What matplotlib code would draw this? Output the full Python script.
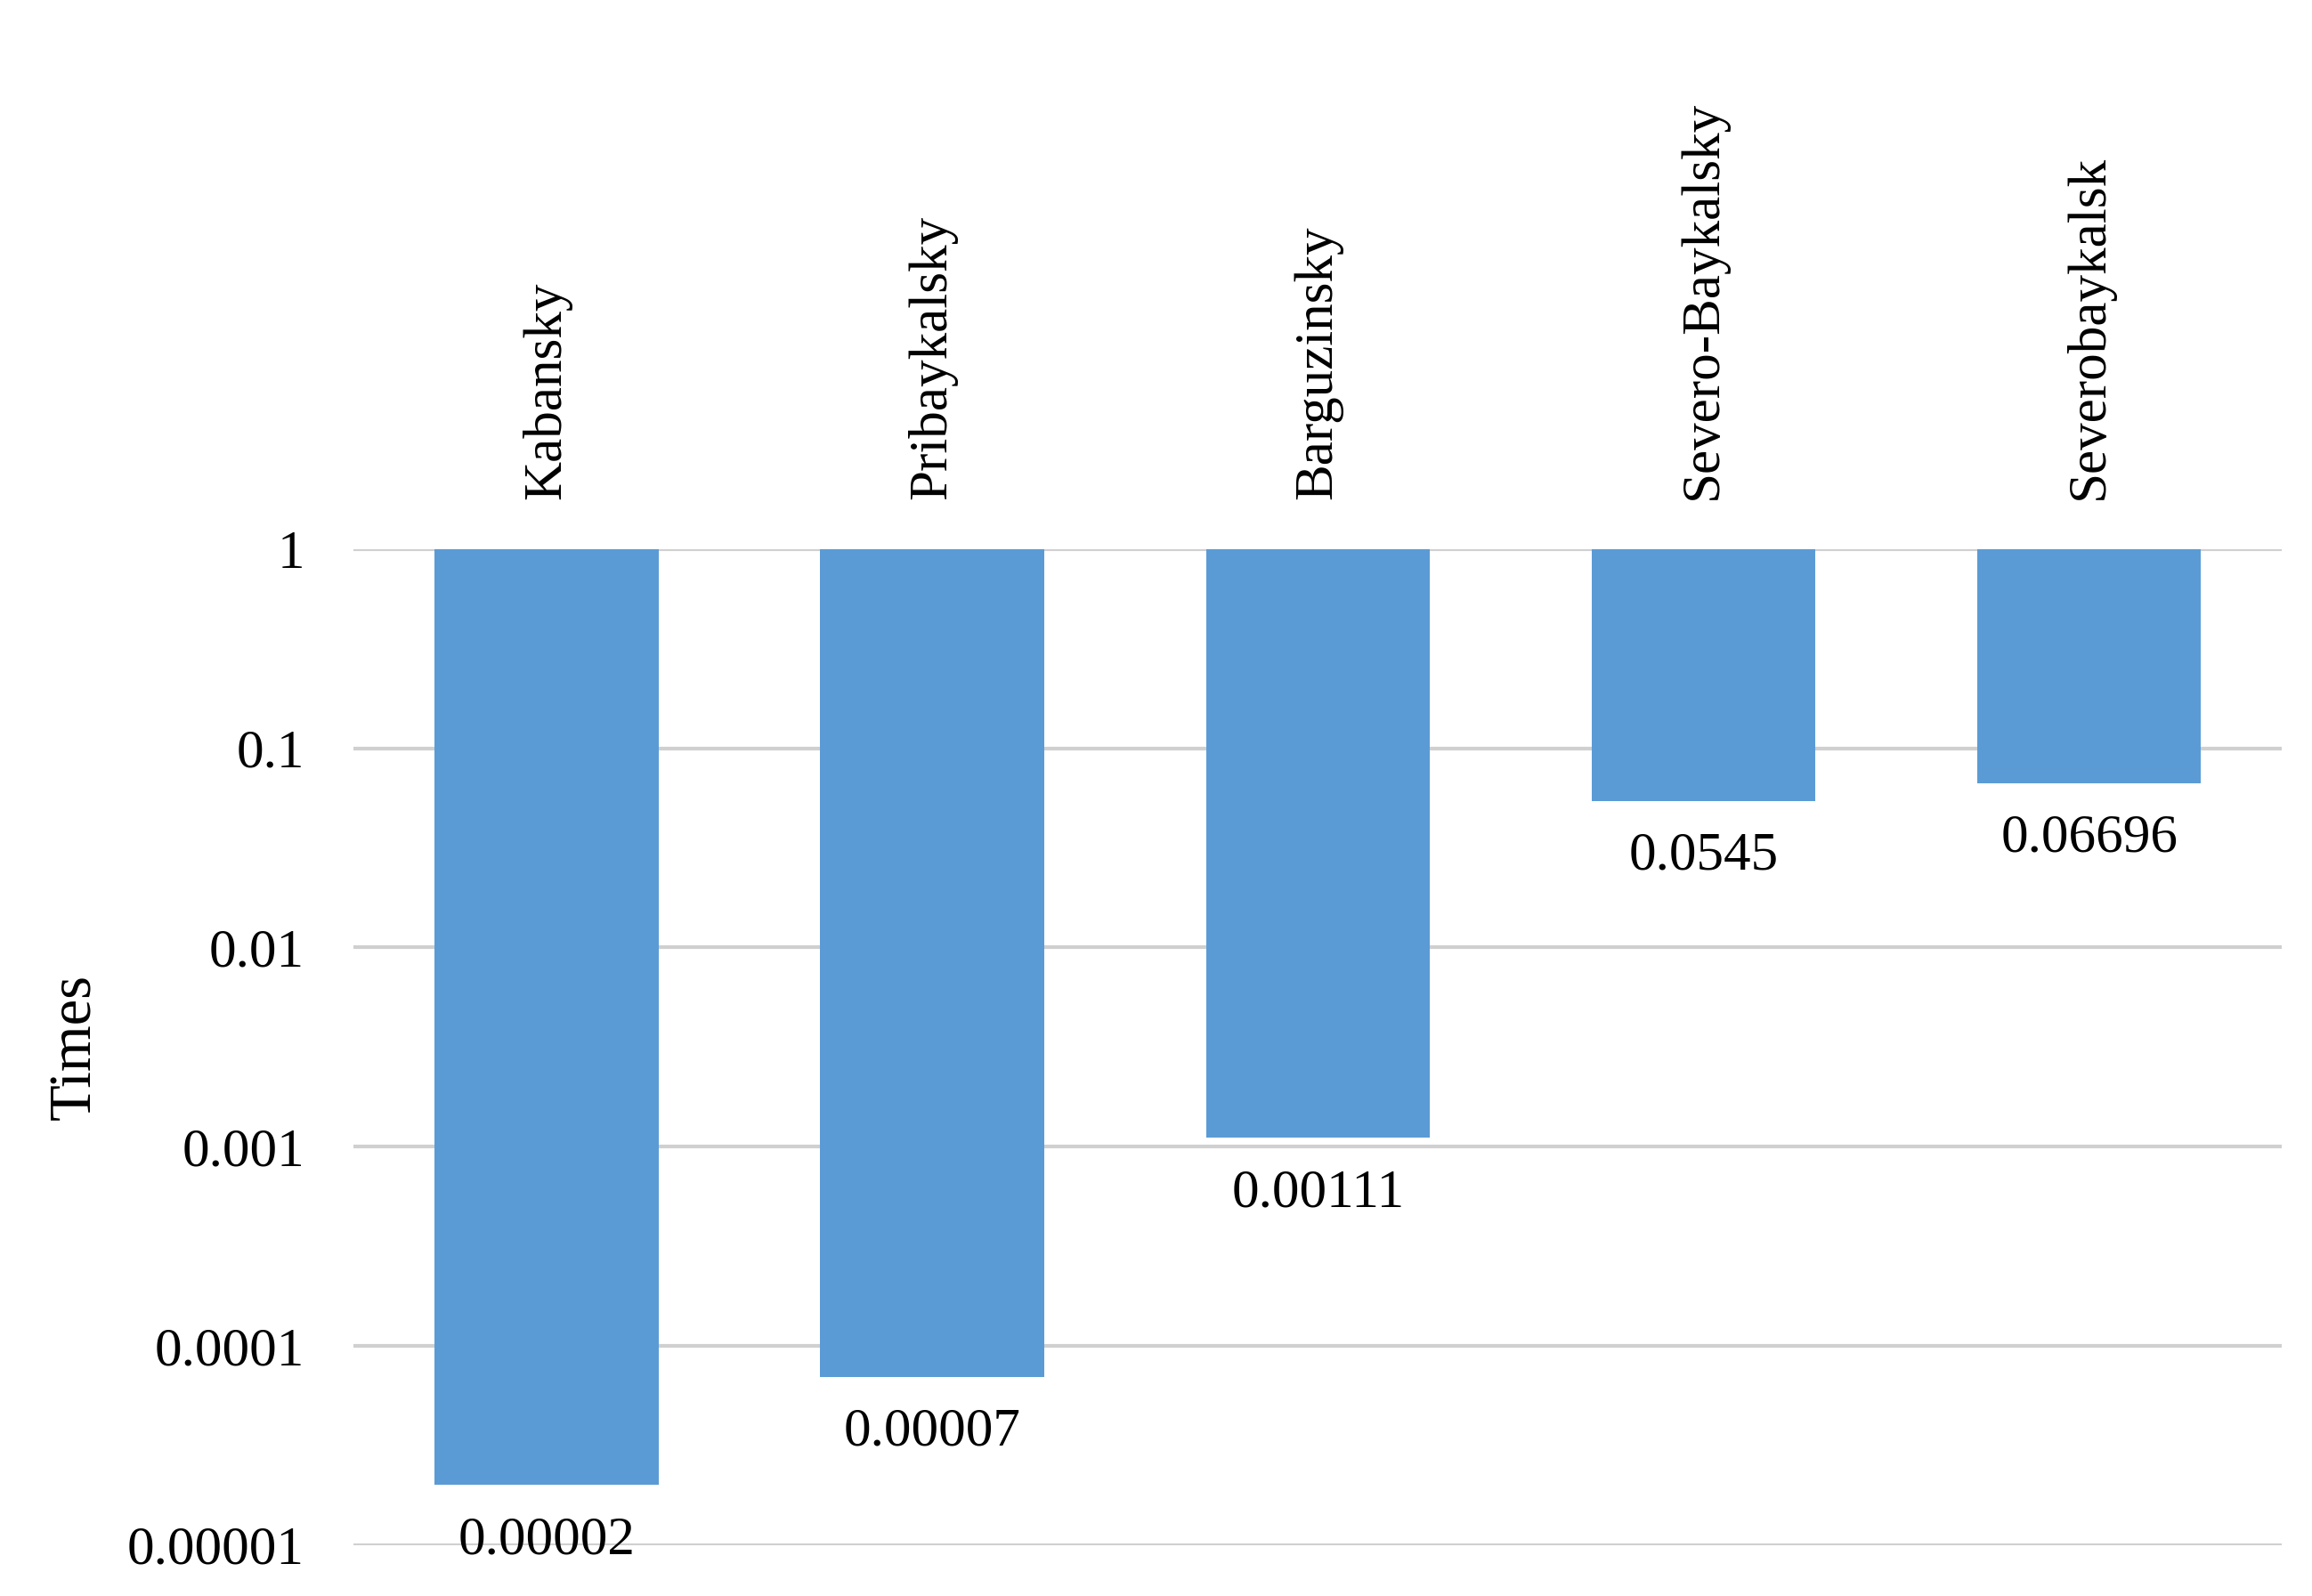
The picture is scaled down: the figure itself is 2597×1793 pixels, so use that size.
import matplotlib
matplotlib.use("Agg")
import matplotlib.pyplot as plt

categories = ["Kabansky", "Pribaykalsky", "Barguzinsky", "Severo-Baykalsky", "Severobaykalsk"]
values = [0.00002, 0.00007, 0.00111, 0.0545, 0.06696]
labels = ["0.00002", "0.00007", "0.00111", "0.0545", "0.06696"]
yticks = [1, 0.1, 0.01, 0.001, 0.0001, 0.00001]
yticklabels = ["1", "0.1", "0.01", "0.001", "0.0001", "0.00001"]

plt.rcParams['font.family'] = ['Liberation Serif', 'DejaVu Serif']
fig = plt.figure(figsize=(25.97, 17.93), dpi=100)
ax = fig.add_axes([0.153, 0.032, 0.834, 0.624])
x = range(len(categories))
ax.bar(x, [1 - v for v in values], bottom=values, width=0.58, color="#5B9BD5", zorder=2)
ax.set_yscale("log")
ax.set_ylim(1e-5, 1)
ax.set_xlim(-0.5, 4.5)
ax.set_yticks(yticks)
ax.set_yticklabels(yticklabels, fontsize=44)
ax.minorticks_off()
ax.yaxis.grid(True, color="#D0D0D0", linewidth=3, zorder=0)
ax.xaxis.tick_top()
ax.set_xticks(list(x))
ax.set_xticklabels(categories, rotation=90, fontsize=44)
ax.tick_params(length=0, pad=40)
for s in ax.spines.values():
    s.set_visible(False)
for i, (v, l) in enumerate(zip(values, labels)):
    ax.annotate(l, (i, v), xytext=(0, -25), textcoords="offset points",
                ha="center", va="top", fontsize=44)
ax.set_ylabel("Times", fontsize=48, labelpad=20)
fig.savefig("out.png", dpi=100)
